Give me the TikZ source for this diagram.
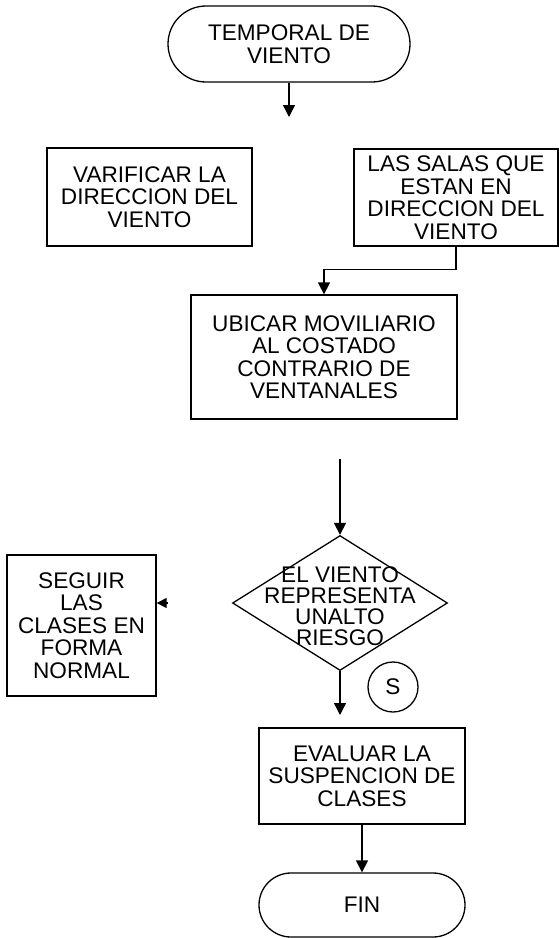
\documentclass[tikz,border=0pt]{standalone}
\usepackage{fontspec}
\setmainfont{Liberation Sans}
\usetikzlibrary{arrows.meta,shapes.geometric,calc}
\begin{document}
\begin{tikzpicture}[x=1pt,y=-1pt,line width=1.3pt,
  txt/.style={align=center,inner sep=0pt,font=\fontsize{22.6}{22.5}\selectfont},
  proceso/.style={txt,draw,rectangle},
  terminal/.style={txt,draw,rectangle,rounded corners=#1},
  decision/.style={draw,diamond,inner sep=0pt},
  flecha/.style={-{Triangle[width=12pt,length=12pt]}},
  puntita/.style={-{Triangle[width=10pt,length=10pt]}}]
\useasboundingbox (0,0) rectangle (559,938);
\node[terminal=38pt,minimum width=242pt,minimum height=76pt] (inicio) at (289,44) {TEMPORAL DE\\VIENTO};
\coordinate (c1) at (289,117);
\draw[flecha] (inicio.south) -- (c1);
\node[proceso,minimum width=205pt,minimum height=98pt] (verificar) at (149.5,197) {VARIFICAR LA\\DIRECCION DEL\\VIENTO};
\node[proceso,minimum width=204pt,minimum height=97pt] (salas) at (456,197.5) {LAS SALAS QUE\\ESTAN EN\\DIRECCION DEL\\VIENTO};
\node[proceso,minimum width=266pt,minimum height=124pt] (ubicar) at (324,357) {UBICAR MOVILIARIO\\AL COSTADO\\CONTRARIO DE\\VENTANALES};
\draw[flecha] (salas.south) -- ++(0,23) -| (ubicar.north);
\node[decision,minimum width=215pt,minimum height=135pt] (riesgo) at (340,603) {};
\node[txt,font=\fontsize{22.6}{21}\selectfont] (riesgotxt) at (340,606) {EL VIENTO\\REPRESENTA\\UNALTO\\RIESGO};
\coordinate (c2) at (340,459);
\draw[flecha] (c2) -- (riesgo.north);
\node[proceso,minimum width=149pt,minimum height=141pt] (seguir) at (81.5,625.5) {SEGUIR\\LAS\\CLASES EN\\FORMA\\NORMAL};
\coordinate (c3) at (168,603);
\draw[puntita] (c3) -- (seguir.east |- c3);
\node[txt,draw,circle,minimum size=50pt] (si) at (393,687) {S};
\coordinate (c4) at (340,715);
\draw[flecha] (riesgo.south) -- (c4);
\node[proceso,minimum width=206pt,minimum height=96pt] (evaluar) at (362,776) {EVALUAR LA\\SUSPENCION DE\\CLASES};
\node[terminal=32pt,minimum width=206pt,minimum height=64pt] (fin) at (362,905) {FIN};
\draw[flecha] (evaluar.south) -- (fin.north);
\end{tikzpicture}
\end{document}
